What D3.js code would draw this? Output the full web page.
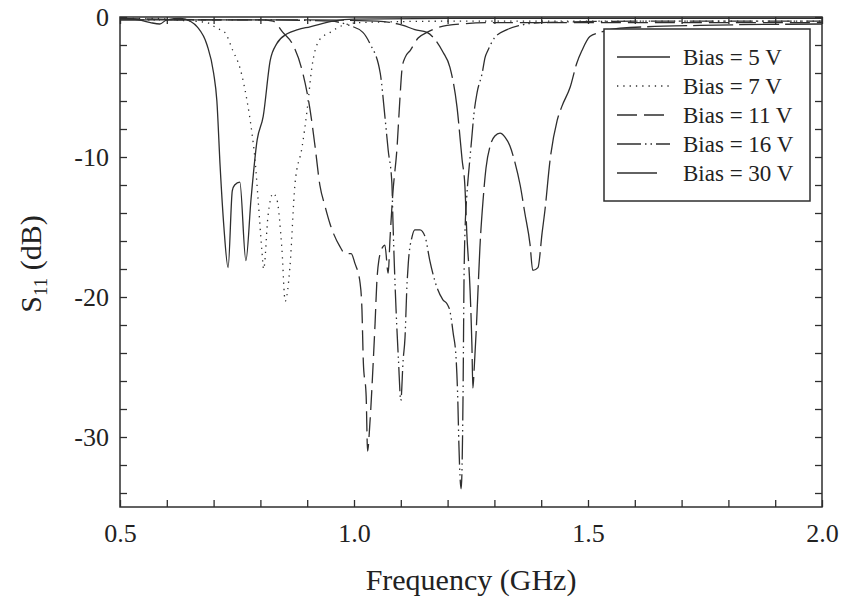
<!DOCTYPE html>
<html>
<head>
<meta charset="utf-8">
<script src="https://cdn.jsdelivr.net/npm/d3@7"></script>
<style>
  body { margin: 0; background: #fff; }
  svg text { font-family: "Liberation Serif", "Times New Roman", serif; fill: #222; }
</style>
</head>
<body>
<div id="chart"></div>
<script>
// S11 curves, [frequency GHz, dB]
var bias5 = [[0.50,-0.1],[0.54,-0.2],[0.565,-0.4],[0.585,-0.5],[0.60,-0.2],[0.63,-0.1],[0.65,-0.3],[0.665,-0.7],
  [0.686,-2.0],[0.700,-4.0],[0.707,-6.0],[0.714,-10.7],[0.722,-15.0],[0.731,-17.9],[0.740,-12.4],[0.745,-12.0],
  [0.756,-11.8],[0.769,-17.4],[0.780,-13.0],[0.793,-8.8],[0.806,-7.1],[0.821,-3.1],[0.835,-1.9],[0.857,-1.2],
  [0.880,-0.9],[0.906,-0.7],[0.955,-0.3],[1.0,-0.15],[1.2,-0.1],[1.6,-0.1],[2.0,-0.1]];

var bias7 = [[0.50,-0.1],[0.58,-0.1],[0.613,-0.2],[0.686,-0.4],[0.707,-0.8],[0.724,-1.1],[0.741,-2.4],[0.756,-3.6],
  [0.771,-5.9],[0.782,-8.3],[0.788,-10.0],[0.795,-13.0],[0.803,-16.6],[0.807,-18.0],[0.816,-14.3],[0.827,-12.6],
  [0.835,-13.0],[0.846,-16.6],[0.853,-20.3],[0.863,-17.9],[0.874,-11.9],[0.889,-9.3],[0.900,-6.6],[0.910,-3.6],
  [0.927,-1.6],[0.949,-1.1],[0.976,-0.6],[1.013,-0.4],[1.2,-0.3],[1.6,-0.3],[2.0,-0.3]];

var bias11 = [[0.50,-0.1],[0.70,-0.2],[0.80,-0.2],[0.827,-0.3],[0.848,-1.1],[0.868,-1.9],[0.889,-3.8],[0.906,-6.6],
  [0.917,-9.3],[0.927,-12.0],[0.938,-13.5],[0.949,-14.8],[0.970,-16.4],[0.981,-16.9],[0.994,-16.9],[1.002,-17.6],
  [1.013,-19.0],[1.017,-20.9],[1.020,-24.7],[1.026,-27.1],[1.029,-31.0],[1.034,-29.0],[1.041,-24.7],[1.045,-21.9],
  [1.049,-18.8],[1.053,-17.4],[1.062,-16.4],[1.066,-16.3],[1.073,-18.3],[1.077,-15.8],[1.083,-12.6],[1.092,-9.3],
  [1.098,-5.9],[1.103,-3.6],[1.109,-2.9],[1.120,-2.4],[1.137,-1.5],[1.156,-1.1],[1.199,-0.6],[1.3,-0.4],[1.6,-0.4],[2.0,-0.4]];

var bias16 = [[0.50,-0.2],[0.80,-0.2],[0.95,-0.3],[0.99,-0.6],[1.019,-1.1],[1.034,-1.9],[1.056,-4.0],[1.066,-7.1],
  [1.073,-9.5],[1.081,-11.9],[1.083,-14.3],[1.086,-17.5],[1.090,-21.0],[1.095,-24.5],[1.100,-27.4],[1.105,-24.5],
  [1.109,-22.9],[1.113,-19.3],[1.116,-17.6],[1.124,-15.7],[1.130,-15.2],[1.141,-15.2],[1.152,-15.7],[1.162,-17.4],
  [1.177,-19.3],[1.190,-20.2],[1.199,-20.5],[1.205,-21.0],[1.212,-22.6],[1.218,-24.3],[1.222,-27.6],[1.224,-30.4],
  [1.229,-33.7],[1.233,-27.0],[1.235,-19.0],[1.238,-14.5],[1.241,-12.8],[1.248,-10.0],[1.252,-8.5],[1.256,-7.0],
  [1.263,-5.4],[1.274,-4.0],[1.280,-2.9],[1.286,-2.4],[1.300,-1.5],[1.327,-0.9],[1.355,-0.6],[1.397,-0.4],[1.6,-0.3],[2.0,-0.3]];

var bias30 = [[0.50,-0.2],[0.90,-0.2],[1.05,-0.3],[1.105,-0.6],[1.130,-0.9],[1.156,-1.1],[1.173,-1.6],[1.190,-2.5],
  [1.205,-3.6],[1.220,-6.4],[1.231,-10.2],[1.237,-12.1],[1.241,-15.4],[1.248,-19.5],[1.252,-23.5],[1.254,-26.5],
  [1.257,-25.0],[1.261,-22.5],[1.265,-19.5],[1.269,-16.5],[1.276,-13.0],[1.282,-10.8],[1.291,-9.2],[1.301,-8.5],
  [1.312,-8.3],[1.323,-8.6],[1.333,-9.2],[1.344,-10.4],[1.355,-12.0],[1.365,-14.0],[1.376,-16.2],[1.382,-18.1],
  [1.393,-17.9],[1.402,-15.4],[1.408,-13.8],[1.419,-10.2],[1.434,-7.4],[1.444,-6.4],[1.462,-5.0],[1.476,-3.3],
  [1.487,-2.4],[1.504,-1.4],[1.526,-1.1],[1.568,-0.8],[1.739,-0.6],[2.0,-0.5]];

var seriesNames = ["Bias = 5 V", "Bias = 7 V", "Bias = 11 V", "Bias = 16 V", "Bias = 30 V"];
var seriesData = [bias5, bias7, bias11, bias16, bias30];
var dashes = [null, "1.3,5", "20,7", "24,4,1.5,4,1.5,4", "40,6"];

var xTicks = d3.range(5, 21).map(function (d) { return d / 10; });
var yTicks = d3.range(0, -36, -2);

var W = 843, H = 607;
var padL = 120, padR = 822, padT = 17, padB = 507;

var svg = d3.select("#chart").append("svg")
  .attr("width", W)
  .attr("height", H);

var x = d3.scaleLinear().domain([0.5, 2.0]).range([padL, padR]);
var y = d3.scaleLinear().domain([-35, 0]).range([padB, padT]);

var ink = "#2e2e2e";

//axes, ticks pointing inward
var xBottom = d3.axisBottom(x).tickValues(xTicks).tickSizeInner(-7).tickSizeOuter(0).tickPadding(17)
  .tickFormat(function (d) { return Math.abs(d * 2 - Math.round(d * 2)) < 1e-6 ? d.toFixed(1) : ""; });
var xTop = d3.axisTop(x).tickValues(xTicks).tickSizeInner(-7).tickSizeOuter(0).tickFormat("");
var yLeft = d3.axisLeft(y).tickValues(yTicks).tickSizeInner(-7).tickSizeOuter(0).tickPadding(11)
  .tickFormat(function (d) { return d % 10 === 0 ? String(d) : ""; });
var yRight = d3.axisRight(y).tickValues(yTicks).tickSizeInner(-7).tickSizeOuter(0).tickFormat("");

function styleAxis(g) {
  g.select(".domain").remove();
  g.selectAll("line").attr("stroke", ink).attr("stroke-width", 1.3);
  g.selectAll("text").attr("font-size", "26px").attr("fill", "#222")
    .attr("font-family", "Liberation Serif, Times New Roman, serif");
}

svg.append("g").attr("transform", "translate(0," + padB + ")").call(xBottom).call(styleAxis);
svg.append("g").attr("transform", "translate(0," + padT + ")").call(xTop).call(styleAxis);
svg.append("g").attr("transform", "translate(" + padL + ",0)").call(yLeft).call(styleAxis);
svg.append("g").attr("transform", "translate(" + padR + ",0)").call(yRight).call(styleAxis);

// curves
var line = d3.line()
  .x(function (d) { return x(d[0]); })
  .y(function (d) { return y(d[1]); })
  .curve(d3.curveMonotoneX);

var plot = svg.append("g");
seriesData.forEach(function (s, i) {
  plot.append("path")
    .datum(s)
    .attr("d", line)
    .attr("fill", "none")
    .attr("stroke", ink)
    .attr("stroke-width", 1.3)
    .attr("stroke-dasharray", dashes[i]);
});

// frame
svg.append("rect")
  .attr("x", padL).attr("y", padT)
  .attr("width", padR - padL).attr("height", padB - padT)
  .attr("fill", "none").attr("stroke", ink).attr("stroke-width", 1.5);

// axis titles
svg.append("text")
  .attr("x", (padL + padR) / 2)
  .attr("y", 590)
  .attr("text-anchor", "middle")
  .attr("font-size", "30px")
  .text("Frequency (GHz)");

var yt = svg.append("text")
  .attr("transform", "translate(41,264) rotate(-90)")
  .attr("text-anchor", "middle")
  .attr("font-size", "30px");
yt.append("tspan").text("S");
yt.append("tspan").attr("font-size", "19px").attr("dy", 6).text("11");
yt.append("tspan").attr("dy", -6).text(" (dB)");

// legend
var lg = svg.append("g");
lg.append("rect")
  .attr("x", 604).attr("y", 29).attr("width", 206).attr("height", 172)
  .attr("fill", "#fff").attr("stroke", ink).attr("stroke-width", 1.5);

seriesNames.forEach(function (name, i) {
  var cy = 57 + i * 29;
  lg.append("line")
    .attr("x1", 617).attr("x2", i === 4 ? 661 : 670)
    .attr("y1", cy).attr("y2", cy)
    .attr("stroke", ink).attr("stroke-width", 1.3)
    .attr("stroke-dasharray", dashes[i]);
  lg.append("text")
    .attr("x", 683).attr("y", cy + 8)
    .attr("font-size", "23px")
    .text(name);
});
</script>
</body>
</html>
